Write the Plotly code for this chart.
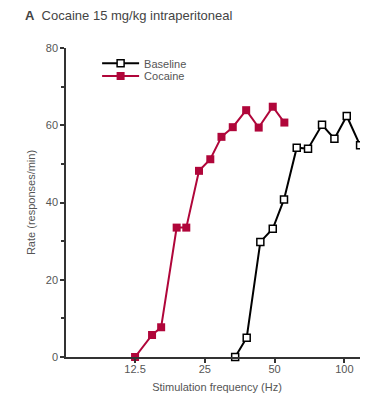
import plotly.graph_objects as go

baseline_freq = [33.8, 37.9, 43.4, 49.1, 54.9, 62.3, 69.7, 80.1, 90.6, 102.4, 116.9]
baseline_rate = [0.0, 5.0, 29.8, 33.2, 40.8, 54.2, 53.9, 60.1, 56.5, 62.4, 54.8]
cocaine_freq = [12.5, 14.8, 16.2, 18.9, 20.8, 23.6, 26.4, 29.5, 33.0, 37.7, 42.7, 49.1, 55.1]
cocaine_rate = [0.0, 5.7, 7.7, 33.5, 33.5, 48.2, 51.2, 57.0, 59.5, 63.9, 59.4, 64.8, 60.7]
x_tick_vals = [12.5, 25, 50, 100]
x_tick_text = ["12.5", "25", "50", "100"]
y_tick_vals = [0, 20, 40, 60, 80]
y_minor_vals = [10, 30, 50, 70]

RED = "#b0063a"
GRAY = "#555555"
AX = "#333333"
FONT = "Liberation Sans, Arial, sans-serif"

fig = go.Figure()
fig.add_trace(go.Scatter(
    x=baseline_freq, y=baseline_rate, name="Baseline", mode="lines+markers",
    line=dict(color="black", width=2),
    marker=dict(symbol="square", size=7, color="white", line=dict(color="black", width=1.5)),
    cliponaxis=False, legend="legend",
))
fig.add_trace(go.Scatter(
    x=cocaine_freq, y=cocaine_rate, name="Cocaine", mode="lines+markers",
    line=dict(color=RED, width=2),
    marker=dict(symbol="square", size=8, color=RED, line=dict(color=RED, width=0)),
    cliponaxis=False, legend="legend2",
))

leg_common = dict(xanchor="left", yanchor="middle", bgcolor="rgba(0,0,0,0)",
                  font=dict(size=11, color=GRAY, family=FONT), itemwidth=37)

fig.update_layout(
    width=360, height=385,
    margin=dict(l=58, r=0, t=40, b=36, autoexpand=False),
    paper_bgcolor="white", plot_bgcolor="white",
    font=dict(family=FONT, size=11, color=GRAY),
    showlegend=True,
    legend=dict(x=0.103, y=0.9505, **leg_common),
    legend2=dict(x=0.103, y=0.9094, **leg_common),
)
fig.add_annotation(text="<b>A</b>  Cocaine 15 mg/kg intraperitoneal",
                   xref="paper", yref="paper", x=-0.1424, y=1.1036,
                   xanchor="left", yanchor="middle", showarrow=False,
                   font=dict(size=13, color="#444444", family=FONT))

fig.update_xaxes(
    type="log", range=[0.799, 2.102], automargin=False,
    tickvals=x_tick_vals, ticktext=x_tick_text,
    ticks="outside", ticklen=4, tickcolor=AX, tickwidth=1.5,
    ticklabelstandoff=-3,
    showline=True, linecolor=AX, linewidth=1.5,
    showgrid=False, zeroline=False,
    title=dict(text="Stimulation frequency (Hz)", font=dict(size=11, color=GRAY), standoff=14),
    tickfont=dict(size=11, color=GRAY),
)
fig.update_yaxes(
    range=[0, 80], automargin=False,
    tickvals=y_tick_vals,
    ticks="outside", ticklen=4, tickcolor=AX, tickwidth=1.5,
    minor=dict(tickvals=y_minor_vals, ticks="outside", ticklen=3, tickcolor=AX, tickwidth=1.5),
    showline=True, linecolor=AX, linewidth=1.5,
    showgrid=False, zeroline=False,
    title=dict(text="Rate (responses/min)", font=dict(size=11, color=GRAY), standoff=8),
    tickfont=dict(size=11, color=GRAY),
)

fig.write_html("out.html")
